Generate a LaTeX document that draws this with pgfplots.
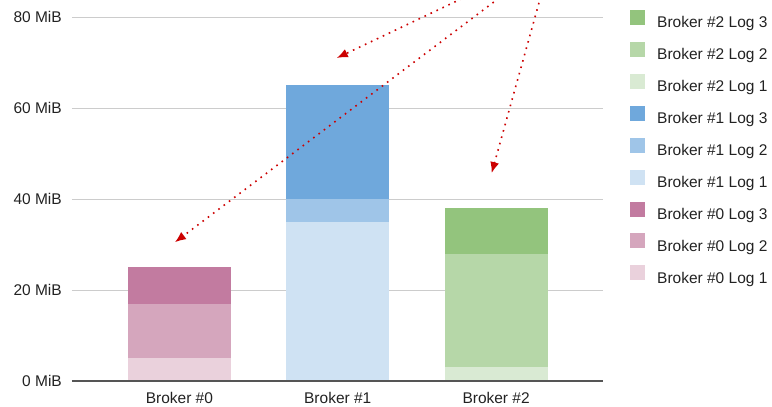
\documentclass[border=0pt]{standalone}
\usepackage{pgfplots}
\pgfplotsset{compat=1.18}
\usepackage{fontspec}
\setmainfont{Liberation Sans}
\usetikzlibrary{arrows.meta}

\definecolor{txt}{HTML}{222222}
\definecolor{gridc}{HTML}{CCCCCC}
\definecolor{basec}{HTML}{555555}
\definecolor{arrowc}{HTML}{CC0000}
\definecolor{bzeroA}{HTML}{EAD1DC}
\definecolor{bzeroB}{HTML}{D5A6BD}
\definecolor{bzeroC}{HTML}{C27BA0}
\definecolor{boneA}{HTML}{CFE2F3}
\definecolor{boneB}{HTML}{9FC5E8}
\definecolor{boneC}{HTML}{6FA8DC}
\definecolor{btwoA}{HTML}{D9EAD3}
\definecolor{btwoB}{HTML}{B6D7A8}
\definecolor{btwoC}{HTML}{93C47D}

\newcommand{\lblfont}{\fontsize{15.5}{18}\selectfont}

\begin{document}
\begin{tikzpicture}
\useasboundingbox (-72pt,-26pt) rectangle (700pt,381pt);
\begin{axis}[
  at={(0,0)}, anchor=south west,
  scale only axis, width=531pt, height=364pt,
  ybar stacked, bar width=103pt,
  xmin=-0.678, xmax=2.675, ymin=0, ymax=80,
  xtick={0,1,2},
  xticklabels={Broker \#0, Broker \#1, Broker \#2},
  ytick={0,20,40,60,80},
  yticklabel={\pgfmathprintnumber{\tick} MiB},
  /pgf/number format/assume math mode=true,
  major tick length=0pt,
  axis line style={draw=none},
  ymajorgrids,
  grid style={draw=gridc, line width=1pt},
  yticklabel style={font=\lblfont, text=txt, inner sep=0pt, xshift=-10pt},
  xticklabel style={font=\lblfont, text=txt, inner sep=0pt, yshift=-11pt},
  reverse legend,
  legend cell align=left,
  legend style={at={(1.0508,1.0206)}, anchor=north west, draw=none, fill=none,
    inner sep=0pt, font=\lblfont, text=txt, row sep=12.6pt,
    nodes={inner sep=0pt}},
  legend image code/.code={
    \fill[#1] (0pt,-2pt) rectangle (15pt,13pt);
    \path (27pt,0pt);
  },
]
% Broker #0 logs
\addplot[fill=bzeroA, draw=none] coordinates {(0,5) (1,0) (2,0)};
\addlegendentry{Broker \#0 Log 1}
\addplot[fill=bzeroB, draw=none] coordinates {(0,12) (1,0) (2,0)};
\addlegendentry{Broker \#0 Log 2}
\addplot[fill=bzeroC, draw=none] coordinates {(0,8) (1,0) (2,0)};
\addlegendentry{Broker \#0 Log 3}
% Broker #1 logs
\addplot[fill=boneA, draw=none] coordinates {(0,0) (1,35) (2,0)};
\addlegendentry{Broker \#1 Log 1}
\addplot[fill=boneB, draw=none] coordinates {(0,0) (1,5) (2,0)};
\addlegendentry{Broker \#1 Log 2}
\addplot[fill=boneC, draw=none] coordinates {(0,0) (1,25) (2,0)};
\addlegendentry{Broker \#1 Log 3}
% Broker #2 logs
\addplot[fill=btwoA, draw=none] coordinates {(0,0) (1,0) (2,3)};
\addlegendentry{Broker \#2 Log 1}
\addplot[fill=btwoB, draw=none] coordinates {(0,0) (1,0) (2,25)};
\addlegendentry{Broker \#2 Log 2}
\addplot[fill=btwoC, draw=none] coordinates {(0,0) (1,0) (2,10)};
\addlegendentry{Broker \#2 Log 3}

% anchor points for the baseline and the pointers
\coordinate (bl) at (rel axis cs:0,0);
\coordinate (br) at (rel axis cs:1,0);
\coordinate (p1s) at (axis cs:1.896,85.9);
\coordinate (p1e) at (axis cs:0.994,71.0);
\coordinate (p2s) at (axis cs:2.085,85.9);
\coordinate (p2e) at (axis cs:-0.028,30.5);
\coordinate (p3s) at (axis cs:2.293,85.9);
\coordinate (p3e) at (axis cs:1.972,45.7);
\end{axis}

% baseline
\draw[basec, line width=1.5pt] (bl) -- (br);

% dotted pointers
\begin{scope}[arrowc, line width=1.6pt, dash pattern=on 1.6pt off 5pt,
    -{Latex[length=11pt,width=9pt]}]
  \draw (p1s) -- (p1e);
  \draw (p2s) -- (p2e);
  \draw (p3s) -- (p3e);
\end{scope}
\end{tikzpicture}
\end{document}
